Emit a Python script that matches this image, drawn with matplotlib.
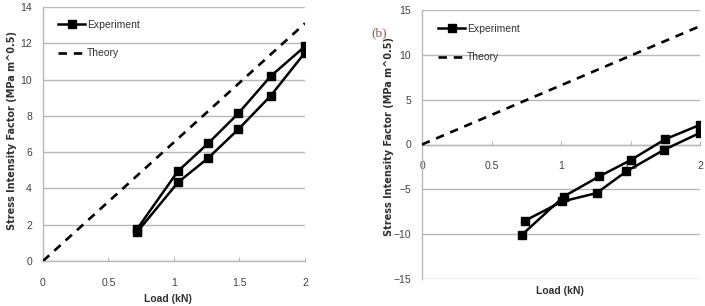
import matplotlib
matplotlib.use("Agg")
import matplotlib.pyplot as plt
from matplotlib.lines import Line2D

# ---- data ----
# panel (a)
a_exp_x = [0.72, 1.03, 1.26, 1.49, 1.74, 2.00, 2.00, 1.74, 1.49, 1.26, 1.03, 0.72]
a_exp_y = [1.61, 4.33, 5.67, 7.25, 9.12, 11.49, 11.83, 10.20, 8.13, 6.48, 4.95, 1.78]
a_theory_x = [0.0, 2.0]
a_theory_y = [0.0, 13.1]
a_yticks = [0, 2, 4, 6, 8, 10, 12, 14]
# panel (b)
b_exp_x = [0.72, 1.02, 1.275, 1.50, 1.75, 2.00, 2.00, 1.74, 1.47, 1.256, 1.01, 0.74]
b_exp_y = [-10.06, -5.80, -3.56, -1.75, 0.59, 2.19, 1.30, -0.60, -3.00, -5.42, -6.35, -8.50]
b_theory_x = [0.0, 2.0]
b_theory_y = [0.0, 13.2]
b_yticks = [-15, -10, -5, 0, 5, 10, 15]
xticks = [0, 0.5, 1, 1.5, 2]
xtick_labels = ["0", "0.5", "1", "1.5", "2"]

FONT = ['Liberation Sans Narrow', 'Liberation Sans', 'DejaVu Sans']
plt.rcParams['font.family'] = FONT

W, H = 705, 306
fig = plt.figure(figsize=(W / 100, H / 100), dpi=100)

def px(x0, y0, x1, y1):
    return [x0 / W, 1 - y1 / H, (x1 - x0) / W, (y1 - y0) / H]

axA = fig.add_axes(px(43, 7, 305, 261))
axB = fig.add_axes(px(422, 10, 700, 279))

grid_c = '#b8b8b8'
tick_c = '#404040'

def style(ax, yticks, ylim):
    ax.set_xlim(0, 2)
    ax.set_ylim(*ylim)
    ax.set_xticks(xticks)
    ax.set_xticklabels(xtick_labels)
    ax.set_yticks(yticks)
    ax.yaxis.grid(True, color=grid_c, linewidth=1.0)
    ax.xaxis.grid(False)
    ax.set_axisbelow(True)
    for s in ['top', 'right']:
        ax.spines[s].set_visible(False)
    ax.spines['left'].set_color(grid_c)
    ax.spines['bottom'].set_color(grid_c)
    ax.spines['left'].set_linewidth(1.0)
    ax.spines['bottom'].set_linewidth(1.0)
    ax.tick_params(axis='y', length=0, labelsize=7.5, labelcolor=tick_c, pad=8)
    ax.tick_params(axis='x', direction='in', length=3, color=grid_c,
                   labelsize=7.5, labelcolor=tick_c, pad=12)

def draw(ax, ex, ey, tx, ty):
    ax.plot(tx, ty, color='black', linestyle=(0, (3.2, 2.6)), linewidth=1.9,
            label='Theory', zorder=3)
    ax.plot(ex, ey, color='black', linewidth=1.8, marker='s', markersize=5.5,
            label='Experiment', zorder=4)

draw(axA, a_exp_x, a_exp_y, a_theory_x, a_theory_y)
style(axA, a_yticks, (0, 14))

draw(axB, b_exp_x, b_exp_y, b_theory_x, b_theory_y)
style(axB, b_yticks, (-15, 15))
axB.spines['bottom'].set_position(('data', 0))

handles = [Line2D([], [], color='black', linewidth=1.8, marker='s', markersize=5.5),
           Line2D([], [], color='black', linestyle=(0, (3.2, 2.6)), linewidth=1.9)]
labels = ['Experiment', 'Theory']

for ax, (lx, ly) in [(axA, (58, 20)), (axB, (438, 24))]:
    leg = ax.legend(handles, labels, loc='upper left',
                    bbox_to_anchor=(lx / W, 1 - ly / H), bbox_transform=fig.transFigure,
                    frameon=False, fontsize=7.5, handlelength=2.6, handletextpad=0.15,
                    labelspacing=1.75, borderpad=0, borderaxespad=0)
    for t in leg.get_texts():
        t.set_color('#303030')

ylabel = 'Stress Intensity Factor (MPa m^0.5)'
fig.text(12 / W, 1 - 131 / H, ylabel, rotation=90, ha='center', va='center',
         fontsize=7, fontweight='bold', color='#303030', family=['DejaVu Sans'])
fig.text(389 / W, 1 - 137 / H, ylabel, rotation=90, ha='center', va='center',
         fontsize=7, fontweight='bold', color='#303030', family=['DejaVu Sans'])

fig.text(168 / W, 1 - 299 / H, 'Load (kN)', ha='center', va='center',
         fontsize=7.5, fontweight='bold', color='#303030')
fig.text(560 / W, 1 - 291 / H, 'Load (kN)', ha='center', va='center',
         fontsize=7.5, fontweight='bold', color='#303030')

fig.text(379 / W, 1 - 33 / H, '(b)', ha='center', va='center', fontsize=9.5,
         color='#8a5a52', family=['Liberation Serif', 'DejaVu Serif'])

fig.savefig('out.png', dpi=100)
